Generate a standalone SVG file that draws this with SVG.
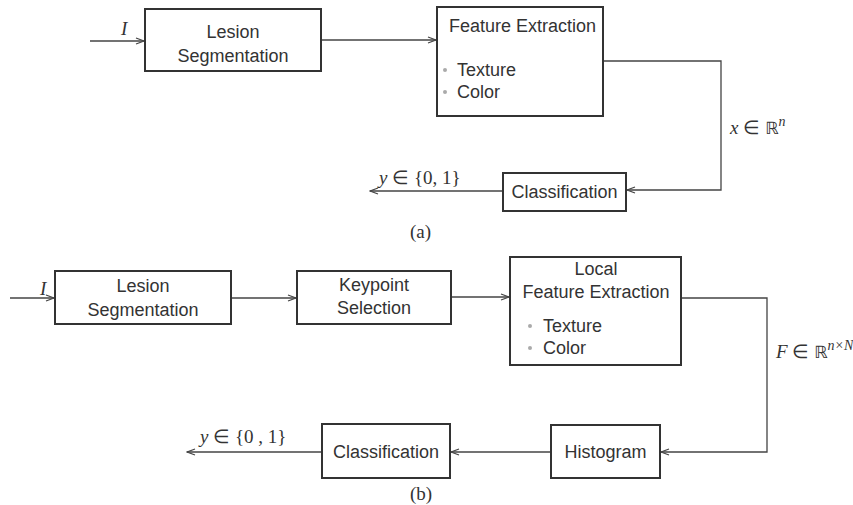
<svg xmlns="http://www.w3.org/2000/svg" width="853" height="505" viewBox="0 0 853 505">
<style>
.box{fill:#fff;stroke:#333;stroke-width:2}
.t{font-family:"Liberation Sans",Arial,sans-serif;font-size:18px;fill:#333}
.c{text-anchor:middle}
.m{font-family:"Liberation Serif","Times New Roman",serif;font-size:19px;fill:#333}
.i{font-style:italic}
.w{fill:none;stroke:#444;stroke-width:1.3}
.dot{fill:#aaa}
</style>
<defs>
<marker id="ah" markerWidth="10" markerHeight="8" refX="9" refY="4" orient="auto" markerUnits="userSpaceOnUse">
<path d="M1,1 L9,4 L1,7" fill="none" stroke="#444" stroke-width="1.3"/>
</marker>
</defs>
<rect width="853" height="505" fill="#fff"/>
<g id="connectors">
<line class="w" x1="90" y1="41" x2="144" y2="41" marker-end="url(#ah)"/>
<line class="w" x1="321" y1="40" x2="436" y2="40" marker-end="url(#ah)"/>
<polyline class="w" points="603,61 721,61 721,190 627,190" marker-end="url(#ah)"/>
<line class="w" x1="503" y1="191" x2="370" y2="191" marker-end="url(#ah)"/>
<line class="w" x1="10" y1="298" x2="54" y2="298" marker-end="url(#ah)"/>
<line class="w" x1="231" y1="298" x2="296" y2="298" marker-end="url(#ah)"/>
<line class="w" x1="451" y1="297" x2="509" y2="297" marker-end="url(#ah)"/>
<polyline class="w" points="681,298 767,298 767,452 661,452" marker-end="url(#ah)"/>
<line class="w" x1="551" y1="452" x2="451" y2="452" stroke-width="1.8" marker-end="url(#ah)"/>
<line class="w" x1="322" y1="452" x2="187" y2="452" marker-end="url(#ah)"/>
</g>
<g id="labels">
<text class="m i" x="121" y="35">I</text>
<text class="m" x="730" y="134"><tspan class="i">x</tspan> ∈ <tspan font-family="DejaVu Sans" font-size="17">ℝ</tspan><tspan class="i" font-size="14" dy="-8">n</tspan></text>
<text class="m" x="379" y="184"><tspan class="i">y</tspan> ∈ {0, 1}</text>
<text class="m" x="410" y="238">(a)</text>
<text class="m i" x="40" y="295">I</text>
<text class="m" x="776" y="358"><tspan class="i">F</tspan> ∈ <tspan font-family="DejaVu Sans" font-size="17">ℝ</tspan><tspan class="i" font-size="14" dy="-8">n×N</tspan></text>
<text class="m" x="200" y="443"><tspan class="i">y</tspan> ∈ {0 , 1}</text>
<text class="m" x="410" y="500">(b)</text>
</g>
<g id="a-lesion">
<rect class="box" x="145" y="9" width="176" height="62"/>
<text class="t c" x="233" y="38">Lesion</text>
<text class="t c" x="233" y="62">Segmentation</text>
</g>
<g id="a-feature">
<rect class="box" x="437" y="7" width="166" height="109"/>
<text class="t" x="449" y="32">Feature Extraction</text>
<circle class="dot" cx="445" cy="70" r="2"/>
<text class="t" x="457" y="76">Texture</text>
<circle class="dot" cx="445" cy="92" r="2"/>
<text class="t" x="457" y="98">Color</text>
</g>
<g id="a-class">
<rect class="box" x="503" y="173" width="123" height="38"/>
<text class="t c" x="564.5" y="198">Classification</text>
</g>
<g id="b-lesion">
<rect class="box" x="55" y="271" width="176" height="53"/>
<text class="t c" x="143" y="292">Lesion</text>
<text class="t c" x="143" y="316">Segmentation</text>
</g>
<g id="b-keypoint">
<rect class="box" x="297" y="271" width="154" height="53"/>
<text class="t c" x="374" y="291">Keypoint</text>
<text class="t c" x="374" y="314">Selection</text>
</g>
<g id="b-feature">
<rect class="box" x="510" y="257" width="171" height="108"/>
<text class="t c" x="596" y="275">Local</text>
<text class="t c" x="596" y="298">Feature Extraction</text>
<circle class="dot" cx="530" cy="326" r="2"/>
<text class="t" x="543" y="332">Texture</text>
<circle class="dot" cx="530" cy="348" r="2"/>
<text class="t" x="543" y="354">Color</text>
</g>
<g id="b-hist">
<rect class="box" x="551" y="425" width="109" height="53"/>
<text class="t c" x="605.5" y="458">Histogram</text>
</g>
<g id="b-class">
<rect class="box" x="322" y="424" width="128" height="54"/>
<text class="t c" x="386" y="458">Classification</text>
</g>
</svg>
